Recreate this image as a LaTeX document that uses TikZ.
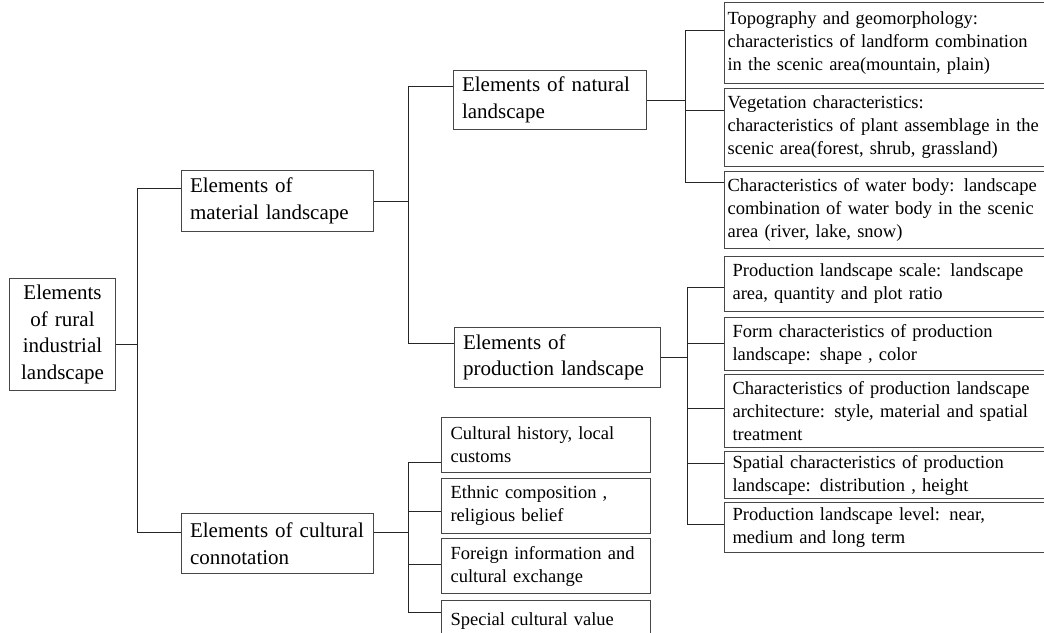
\documentclass[tikz,border=0pt]{standalone}
\usepackage{fontspec}
\setmainfont{Liberation Serif}
\begin{document}
\begin{tikzpicture}[x=1pt,y=-1pt,
  bx/.style={draw=black!72, line width=1.1pt, anchor=north west, inner ysep=1pt, align=left},
  big/.style={bx, font=\fontsize{21}{26.5}\selectfont, inner xsep=8.5pt},
  small/.style={bx, font=\fontsize{18.5}{23}\selectfont, inner xsep=8pt},
  natsmall/.style={small, inner xsep=3pt, text width=329pt},
  prodsmall/.style={small, text width=319pt},
  culsmall/.style={small, inner xsep=9pt, text width=191pt},
  conn/.style={draw=black!85, line width=1pt}]
\path[use as bounding box, clip] (0,0) rectangle (1044,632);

% level 0
\node[big, align=center, text width=89pt, minimum height=112pt] (root) at (9,278)
  {\rule{0pt}{6pt}Elements\\of rural\\industrial\\landscape};
% level 1
\node[big, text width=175pt, minimum height=61pt] (mat) at (181,170)
  {Elements of\\material landscape};
\node[big, text width=175pt, minimum height=60pt] (cul) at (181,513)
  {Elements of cultural\\connotation};
% level 2
\node[big, text width=176pt, minimum height=59pt] (nat) at (453,70)
  {Elements of natural\\landscape};
\node[big, text width=189pt, minimum height=60pt] (prod) at (454,327)
  {Elements of\\production landscape};
% natural leaves
\node[natsmall, minimum height=81pt] (n1) at (724,2)
  {Topography and geomorphology:\\characteristics of landform combination\\in the scenic area(mountain, plain)};
\node[natsmall, minimum height=78pt] (n2) at (724,88)
  {Vegetation characteristics:\\characteristics of plant assemblage in the\\scenic area(forest, shrub, grassland)};
\node[natsmall, minimum height=77pt] (n3) at (724,171)
  {Characteristics of water body: landscape\\combination of water body in the scenic\\area (river, lake, snow)};
% production leaves
\node[prodsmall, minimum height=55pt] (p1) at (724,256)
  {Production landscape scale: landscape\\area, quantity and plot ratio};
\node[prodsmall, minimum height=53pt] (p2) at (724,317)
  {Form characteristics of production\\landscape: shape , color};
\node[prodsmall, minimum height=73pt] (p3) at (724,374)
  {Characteristics of production landscape\\architecture: style, material and spatial\\treatment};
\node[prodsmall, minimum height=47pt] (p4) at (724,451)
  {Spatial characteristics of production\\landscape: distribution , height};
\node[prodsmall, minimum height=50pt] (p5) at (724,502)
  {Production landscape level: near,\\medium and long term};
% cultural leaves
\node[culsmall, minimum height=55pt] (c1) at (441,417)
  {Cultural history, local\\customs};
\node[culsmall, minimum height=55pt] (c2) at (441,478)
  {Ethnic composition ,\\religious belief};
\node[culsmall, minimum height=55pt] (c3) at (441,538)
  {Foreign information and\\cultural exchange};
\node[culsmall, minimum height=40pt] (c4) at (441,600)
  {Special cultural value};

% connectors: root
\draw[conn] (root.east |- 0,344) -- (137,344);
\draw[conn] (mat.west |- 0,188) -| (137,532) -- (cul.west |- 0,532);
% material
\draw[conn] (mat.east) -- (mat.east -| 408,0);
\draw[conn] (nat.west |- 0,86) -| (408,343) -- (prod.west |- 0,343);
% natural
\draw[conn] (nat.east) -- (nat.east -| 685,0);
\draw[conn] (n1.west |- 0,30) -| (685,182) -- (n3.west |- 0,182);
\draw[conn] (n2.west |- 0,110) -- (685,110);
% production
\draw[conn] (prod.east |- 0,357) -- (687,357);
\draw[conn] (p1.west |- 0,287) -| (687,524) -- (p5.west |- 0,524);
\draw[conn] (p2.west |- 0,343) -- (687,343);
\draw[conn] (p3.west |- 0,408) -- (687,408);
\draw[conn] (p4.west |- 0,463) -- (687,463);
% cultural
\draw[conn] (cul.east |- 0,532) -- (408,532);
\draw[conn] (c1.west |- 0,462) -| (408,612) -- (c4.west |- 0,612);
\draw[conn] (c2.west |- 0,511) -- (408,511);
\draw[conn] (c3.west |- 0,564) -- (408,564);
\end{tikzpicture}
\end{document}
